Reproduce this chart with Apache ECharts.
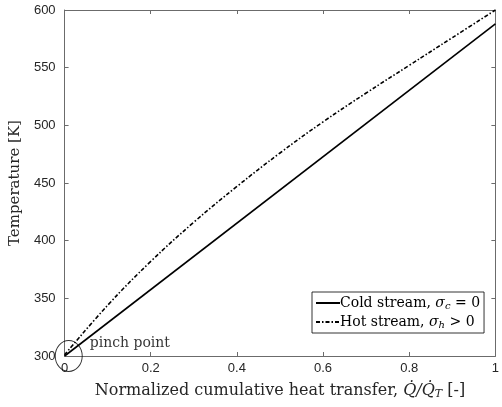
<!DOCTYPE html>
<html>
<head>
<meta charset="utf-8">
<script src="https://cdn.jsdelivr.net/npm/echarts@6/dist/echarts.min.js"></script>
<style>
  html, body { margin: 0; padding: 0; background: #fff; }
  #chart { width: 502px; height: 407px; }
</style>
</head>
<body>
<div id="chart"></div>
<script>
// Normalized cumulative heat transfer (x) and stream temperatures [K]
const qNorm = [0, 0.1, 0.2, 0.3, 0.4, 0.5, 0.6, 0.7, 0.8, 0.9, 1.0];
const hotT  = [301, 344, 382, 416, 447, 476, 503, 528, 552, 576, 600];
const coldQ = [0, 1];
const coldT = [300, 588];
const pinch = [0.0096, 300];

const xTicks = [0, 0.2, 0.4, 0.6, 0.8, 1];
const yTicks = [300, 350, 400, 450, 500, 550, 600];

const serif = '"DejaVu Serif", "Liberation Serif", serif';
const sans = '"Liberation Sans", Arial, sans-serif';
const axisGray = '#6b6b6b';

const chart = echarts.init(document.getElementById('chart'), null, { renderer: 'canvas' });

const baseAxis = {
  axisLine: { show: true, onZero: false, lineStyle: { color: axisGray, width: 1 } },
  axisTick: { show: true, inside: true, length: 4, lineStyle: { color: axisGray, width: 1 } },
  splitLine: { show: false }
};

const mathRich = {
  t: { fontFamily: serif, fontSize: 16, color: '#262626' },
  i: { fontFamily: serif, fontSize: 16, fontStyle: 'italic', color: '#262626' },
  s: { fontFamily: serif, fontSize: 11, fontStyle: 'italic', color: '#262626', padding: [7, 0, 0, 0] }
};

chart.setOption({
  animation: false,
  backgroundColor: '#fff',
  grid: { left: 63, right: 1, top: 10, bottom: 51 },
  xAxis: [
    Object.assign({}, baseAxis, {
      type: 'value', min: xTicks[0], max: xTicks[xTicks.length - 1], interval: 0.2,
      position: 'bottom',
      axisLabel: {
        color: '#262626', fontFamily: sans, fontSize: 13, margin: 6,
        formatter: v => (v === 0 || v === 1) ? String(v) : v.toFixed(1)
      },
      name: '{t|Normalized cumulative heat transfer, }{i|Q̇/Q̇}{s|T}{t| [-]}',
      nameLocation: 'middle', nameGap: 26,
      nameTextStyle: { rich: mathRich }
    }),
    Object.assign({}, baseAxis, {
      type: 'value', min: 0, max: 1, interval: 0.2, position: 'top',
      axisLabel: { show: false }
    })
  ],
  yAxis: [
    Object.assign({}, baseAxis, {
      type: 'value', min: yTicks[0], max: yTicks[yTicks.length - 1], interval: 50,
      position: 'left',
      axisLabel: { color: '#262626', fontFamily: sans, fontSize: 13, margin: 9 },
      name: 'Temperature [K]', nameLocation: 'middle', nameGap: 36, nameRotate: 90,
      nameTextStyle: { fontFamily: serif, fontSize: 15, color: '#262626' }
    }),
    Object.assign({}, baseAxis, {
      type: 'value', min: 300, max: 600, interval: 50, position: 'right',
      axisLabel: { show: false }
    })
  ],
  legend: {
    show: true,
    left: 312, top: 292,
    orient: 'vertical',
    itemWidth: 24, itemHeight: 10, itemGap: 4,
    padding: [4, 4, 3, 3],
    backgroundColor: '#fff',
    borderColor: '#000', borderWidth: 0.8, borderRadius: 0,
    itemStyle: { color: 'rgba(0,0,0,0)', borderWidth: 0, opacity: 0 },
    data: ['Cold stream', 'Hot stream'],
    formatter: name => name === 'Cold stream'
      ? '{t|Cold stream, }{i|σ}{s|c}{t| = 0}'
      : '{t|Hot stream, }{i|σ}{s|h}{t| > 0}',
    textStyle: {
      padding: [0, 0, 0, -5],
      rich: {
        t: { fontFamily: serif, fontSize: 14, color: '#000' },
        i: { fontFamily: serif, fontSize: 14, fontStyle: 'italic', color: '#000' },
        s: { fontFamily: serif, fontSize: 10, fontStyle: 'italic', color: '#000', padding: [6, 0, 0, 0] }
      }
    }
  },
  series: [
    {
      name: 'Cold stream', type: 'line',
      data: coldQ.map((q, k) => [q, coldT[k]]),
      showSymbol: false, symbol: 'none',
      lineStyle: { color: '#000', width: 1.6, type: 'solid' },
      itemStyle: { color: '#000' },
      z: 3
    },
    {
      name: 'Hot stream', type: 'line',
      data: qNorm.map((q, k) => [q, hotT[k]]),
      smooth: 0.4, showSymbol: false, symbol: 'none',
      lineStyle: { color: '#000', width: 1.6, type: [4, 2, 1.5, 2] },
      itemStyle: { color: '#000' },
      z: 3
    },
    {
      name: 'pinch', type: 'scatter',
      data: [pinch],
      symbol: 'circle', symbolSize: [27, 31],
      clip: false, silent: true,
      itemStyle: { color: 'rgba(0,0,0,0)', borderColor: '#000', borderWidth: 1 },
      label: {
        show: true, position: 'right', distance: 7, offset: [0, -13],
        formatter: 'pinch point',
        fontFamily: serif, fontSize: 14, color: '#000'
      },
      z: 4
    }
  ]
});
</script>
</body>
</html>
